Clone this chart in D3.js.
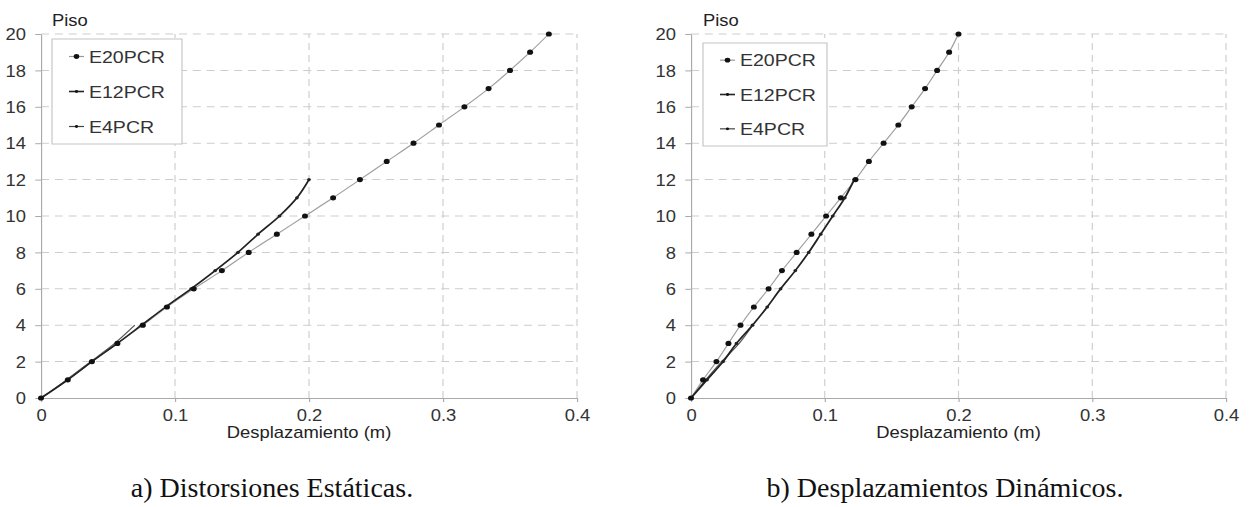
<!DOCTYPE html>
<html>
<head>
<meta charset="utf-8">
<script src="https://cdn.jsdelivr.net/npm/d3@7"></script>
<style>
body { margin: 0; background: #fff; }
svg text { font-family: "Liberation Sans", Arial, sans-serif; fill: #222; }
svg text.caption { font-family: "Liberation Serif", "Times New Roman", serif; fill: #111; }
</style>
</head>
<body>
<svg width="1251" height="507"></svg>
<script>
// pisos (eje y) y desplazamientos (m)
var pisos20 = [0, 1, 2, 3, 4, 5, 6, 7, 8, 9, 10, 11, 12, 13, 14, 15, 16, 17, 18, 19, 20];
var pisos12 = [0, 1, 2, 3, 4, 5, 6, 7, 8, 9, 10, 11, 12];
var pisos4 = [0, 1, 2, 3, 4];

// a) Distorsiones Estaticas
var estE20 = [0, 0.020, 0.038, 0.057, 0.076, 0.094, 0.114, 0.135, 0.155, 0.176, 0.197, 0.218, 0.238, 0.258, 0.278, 0.297, 0.316, 0.334, 0.350, 0.365, 0.379];
var estE12 = [0, 0.020, 0.038, 0.057, 0.075, 0.093, 0.112, 0.130, 0.147, 0.162, 0.178, 0.191, 0.200];
var estE4 = [0, 0.019, 0.037, 0.055, 0.070];

// b) Desplazamientos Dinamicos
var dinE20 = [0, 0.009, 0.019, 0.028, 0.037, 0.047, 0.058, 0.068, 0.079, 0.090, 0.101, 0.112, 0.123, 0.133, 0.144, 0.155, 0.165, 0.175, 0.184, 0.193, 0.200];
var dinE12 = [0, 0.012, 0.024, 0.034, 0.046, 0.057, 0.067, 0.078, 0.088, 0.097, 0.106, 0.115, 0.122];
var dinE4 = [0, 0.011, 0.023, 0.036, 0.046];

var xTicks = [0, 0.1, 0.2, 0.3, 0.4];
var yTicks = [0, 2, 4, 6, 8, 10, 12, 14, 16, 18, 20];
var serieNames = ["E20PCR", "E12PCR", "E4PCR"];
var captions = ["a) Distorsiones Estáticas.", "b) Desplazamientos Dinámicos."];

// the pasted charts are stretched sideways in the scan, the captions are not
var stretch = 1.15;
var svg = d3.select("svg");
var root = svg.append("g").attr("transform", "scale(" + stretch + ",1)");

function zip(xs, ys) {
    return xs.map(function(v, i) { return {x: v, y: ys[i]}; });
}

function drawChart(left, right, legX, legY, legW, legH, capX, series, caption) {
    var g = root.append("g");
    var x = d3.scaleLinear().domain([0, 0.4]).range([left / stretch, right / stretch]);
    var y = d3.scaleLinear().domain([0, 20]).range([398, 34]);

    // grid
    g.append("g").selectAll("line")
        .data(yTicks.slice(1))
        .enter().append("line")
        .attr("x1", x(0)).attr("x2", x(0.4))
        .attr("y1", function(d) { return y(d); })
        .attr("y2", function(d) { return y(d); })
        .style("stroke", "#cdcdcd")
        .style("stroke-dasharray", "7,5");
    g.append("g").selectAll("line")
        .data(xTicks.slice(1))
        .enter().append("line")
        .attr("x1", function(d) { return x(d); })
        .attr("x2", function(d) { return x(d); })
        .attr("y1", y(0)).attr("y2", y(20))
        .style("stroke", "#cdcdcd")
        .style("stroke-dasharray", "7,5");

    // axes
    var ax = g.append("g")
        .attr("transform", "translate(0," + y(0) + ")")
        .call(d3.axisBottom(x).tickValues(xTicks).tickFormat(d3.format("~g"))
            .tickSizeInner(4).tickSizeOuter(0).tickPadding(8));
    var ay = g.append("g")
        .attr("transform", "translate(" + x(0) + ",0)")
        .call(d3.axisLeft(y).tickValues(yTicks).tickSizeInner(5).tickSizeOuter(0).tickPadding(8));
    [ax, ay].forEach(function(a) {
        a.select(".domain").style("stroke", "#aaa");
        a.selectAll(".tick line").style("stroke", "#aaa");
        a.selectAll(".tick text").style("font-size", "16px").style("fill", "#333");
    });
    ay.selectAll(".tick text").attr("dy", "0.36em");

    g.append("text")
        .attr("x", (legX) / stretch)
        .attr("y", 26)
        .style("font-size", "16px")
        .text("Piso");

    g.append("text")
        .attr("x", (x(0) + x(0.4)) / 2)
        .attr("y", 438)
        .attr("text-anchor", "middle")
        .style("font-size", "16px")
        .text("Desplazamiento (m)");

    svg.append("text")
        .attr("class", "caption")
        .attr("x", capX)
        .attr("y", 497)
        .attr("text-anchor", "middle")
        .style("font-size", "28px")
        .text(caption);

    var line = d3.line()
        .x(function(d) { return x(d.x); })
        .y(function(d) { return y(d.y); })
        .curve(d3.curveCatmullRom.alpha(0.5));

    // E20PCR: light line with black dots
    var s20 = series[0], s12 = series[1], s4 = series[2];
    g.append("path").datum(s20)
        .attr("d", line)
        .style("fill", "none").style("stroke", "#a0a0a0").style("stroke-width", 1.1);
    g.append("path").datum(s4)
        .attr("d", line)
        .style("fill", "none").style("stroke", "#555").style("stroke-width", 1.1);
    g.append("path").datum(s12)
        .attr("d", line)
        .style("fill", "none").style("stroke", "#222").style("stroke-width", 1.6);

    g.append("g").selectAll("circle")
        .data(s12)
        .enter().append("circle")
        .attr("cx", function(d) { return x(d.x); })
        .attr("cy", function(d) { return y(d.y); })
        .attr("r", 1.6)
        .style("fill", "#222");
    g.append("g").selectAll("circle")
        .data(s20)
        .enter().append("circle")
        .attr("cx", function(d) { return x(d.x); })
        .attr("cy", function(d) { return y(d.y); })
        .attr("r", 2.6)
        .style("fill", "#111");

    // legend
    var lg = g.append("g").attr("transform", "translate(" + legX / stretch + "," + legY + ")");
    lg.append("rect")
        .attr("width", legW / stretch).attr("height", legH)
        .style("fill", "#fff").style("stroke", "#c4c4c4");
    var rowH = legH / 3;
    serieNames.forEach(function(name, i) {
        var cy = rowH * (i + 0.5);
        lg.append("line")
            .attr("x1", 17 / stretch).attr("x2", 32 / stretch)
            .attr("y1", cy).attr("y2", cy)
            .style("stroke", i == 0 ? "#999" : (i == 1 ? "#222" : "#444"))
            .style("stroke-width", i == 1 ? 1.6 : 1.2);
        lg.append("circle")
            .attr("cx", 24.5 / stretch).attr("cy", cy)
            .attr("r", i == 0 ? 2.4 : 1.4)
            .style("fill", "#111");
        lg.append("text")
            .attr("x", 37 / stretch).attr("y", cy)
            .attr("dy", "0.36em")
            .style("font-size", "17px")
            .style("fill", "#333")
            .text(name);
    });
}

drawChart(41, 577, 52, 39, 130, 105, 272,
    [zip(estE20, pisos20), zip(estE12, pisos12), zip(estE4, pisos4)], captions[0]);
drawChart(691, 1226, 703, 43, 124, 103, 945,
    [zip(dinE20, pisos20), zip(dinE12, pisos12), zip(dinE4, pisos4)], captions[1]);
</script>
</body>
</html>
